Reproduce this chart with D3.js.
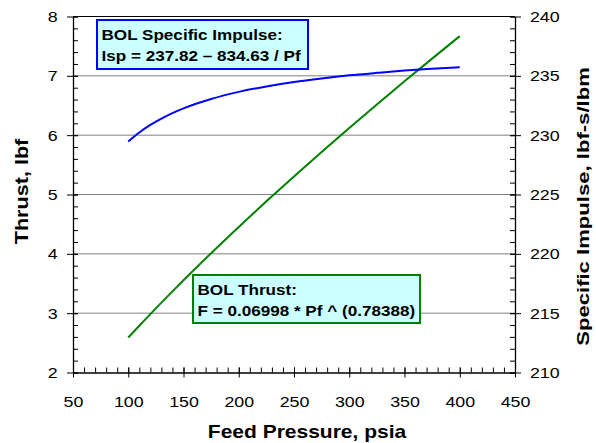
<!DOCTYPE html>
<html>
<head>
  <meta charset=utf-8 />
  <title>Thrust and Isp vs feed pressure</title>
  <style>
    body { margin:0; background:#fff; }
    text { font-family:"Liberation Sans", Arial, sans-serif; fill:#000; }
    .tick text { font-size:15.5px; }
    .title { font-weight:bold; }
    .note { font-size:15px; font-weight:bold; }
  </style>
</head>
<body>
  <div id="container"></div>
  <script src="https://d3js.org/d3.v7.min.js"></script>
  <script>

// feed pressure, psia
var pressure = [100, 110, 120, 130, 140, 150, 175, 200, 225, 250, 275, 300, 325, 350, 375, 400];
// thrust, lbf (green)
var thrust = [2.59, 2.787, 2.984, 3.177, 3.367, 3.554, 4.011, 4.453, 4.885, 5.305, 5.717, 6.121, 6.517, 6.907, 7.290, 7.669];
// specific impulse, lbf-s/lbm (blue)
var isp = [229.47, 230.23, 230.86, 231.40, 231.86, 232.26, 233.05, 233.65, 234.11, 234.48, 234.78, 235.04, 235.25, 235.44, 235.59, 235.73];

var xTicks = [50, 100, 150, 200, 250, 300, 350, 400, 450];
var yTicks = [2, 3, 4, 5, 6, 7, 8];
var y2Ticks = [210, 215, 220, 225, 230, 235, 240];

var ispLabel = ["BOL Specific Impulse:", "Isp = 237.82 \u2013 834.63 / Pf"];
var thrustLabel = ["BOL Thrust:", "F = 0.06998 * Pf ^ (0.78388)"];

var w = 596, h = 443;
var m = {left:73, right:81, top:16.5, bottom:70.5};
var sx = 1.15; // text in the original is a little wide

var svg = d3.select("#container").append("svg")
  .attr("width", w)
  .attr("height", h);

var x = d3.scaleLinear().domain([50, 450]).range([m.left, w - m.right]);
var y = d3.scaleLinear().domain([2, 8]).range([h - m.bottom, m.top]);
var y2 = d3.scaleLinear().domain([210, 240]).range([h - m.bottom, m.top]);

// gridlines
svg.append("g").selectAll("line")
  .data(yTicks.slice(1))
  .enter().append("line")
  .attr("x1", m.left).attr("x2", w - m.right)
  .attr("y1", d => y(d)).attr("y2", d => y(d))
  .attr("stroke", d => d == 8 ? "#000" : "#808080")
  .attr("stroke-width", 1);

// minor ticks (inside)
svg.append("g")
  .attr("transform", "translate(0," + (h - m.bottom) + ")")
  .call(d3.axisTop(x).ticks(40).tickSize(5).tickFormat(""))
  .call(g => g.select(".domain").remove());
svg.append("g")
  .attr("transform", "translate(" + m.left + ",0)")
  .call(d3.axisRight(y).ticks(30).tickSize(5).tickFormat(""))
  .call(g => g.select(".domain").remove());
svg.append("g")
  .attr("transform", "translate(" + (w - m.right) + ",0)")
  .call(d3.axisLeft(y2).ticks(30).tickSize(5).tickFormat(""))
  .call(g => g.select(".domain").remove());

// major axes (ticks crossing)
var xAxis = svg.append("g")
  .attr("transform", "translate(0," + (h - m.bottom) + ")")
  .call(d3.axisBottom(x).tickValues(xTicks).tickSize(5).tickPadding(18).tickSizeOuter(0));
xAxis.selectAll(".tick line").attr("y1", -5);
xAxis.selectAll(".tick text").attr("transform", "scale(" + sx + ",1)");

var yAxis = svg.append("g")
  .attr("transform", "translate(" + m.left + ",0)")
  .call(d3.axisLeft(y).tickValues(yTicks).tickFormat(d3.format("d")).tickSize(6).tickPadding(7.4).tickSizeOuter(0));
yAxis.selectAll(".tick line").attr("x1", 5);
yAxis.selectAll(".tick text").attr("transform", "scale(" + sx + ",1)");

var y2Axis = svg.append("g")
  .attr("transform", "translate(" + (w - m.right) + ",0)")
  .call(d3.axisRight(y2).tickValues(y2Ticks).tickSize(6).tickPadding(7).tickSizeOuter(0));
y2Axis.selectAll(".tick line").attr("x1", -5);
y2Axis.selectAll(".tick text").attr("transform", "scale(" + sx + ",1)");

svg.selectAll(".domain").attr("stroke-width", 1.3);
svg.selectAll(".tick text").attr("font-family", null).attr("font-size", null);

// curves
var line = d3.line().curve(d3.curveMonotoneX);
svg.append("path")
  .datum(pressure.map((p, i) => [x(p), y(thrust[i])]))
  .attr("d", line)
  .attr("fill", "none")
  .attr("stroke", "#008000")
  .attr("stroke-width", 2);
svg.append("path")
  .datum(pressure.map((p, i) => [x(p), y2(isp[i])]))
  .attr("d", line)
  .attr("fill", "none")
  .attr("stroke", "#0000ff")
  .attr("stroke-width", 2);

// annotation boxes
function note(lines, bx, by, bw, bh, col) {
  var g = svg.append("g");
  g.append("rect")
    .attr("x", bx).attr("y", by)
    .attr("width", bw).attr("height", bh)
    .attr("fill", "#ccffff")
    .attr("stroke", col)
    .attr("stroke-width", 2);
  g.selectAll("text")
    .data(lines)
    .enter().append("text")
    .attr("class", "note")
    .attr("transform", (d, i) => "translate(" + (bx + 4.5) + "," + (by + 19.5 + i * 21) + ") scale(1.14,1)")
    .text(d => d);
}
note(ispLabel, 97, 20, 211, 49, "#0000ff");
note(thrustLabel, 193, 275, 227, 48, "#008000");

// axis titles
svg.append("text")
  .attr("class", "title")
  .attr("font-size", 17.5)
  .attr("transform", "translate(307,438) scale(1.2,1)")
  .attr("text-anchor", "middle")
  .text("Feed Pressure, psia");
svg.append("text")
  .attr("class", "title")
  .attr("font-size", 18)
  .attr("transform", "translate(28,191.5) rotate(-90) scale(1.2,1)")
  .attr("text-anchor", "middle")
  .text("Thrust, lbf");
svg.append("text")
  .attr("class", "title")
  .attr("font-size", 17)
  .attr("transform", "translate(589,206.5) rotate(-90) scale(1.3,1)")
  .attr("text-anchor", "middle")
  .text("Specific Impulse, lbf-s/lbm");

  </script>
</body>
</html>
